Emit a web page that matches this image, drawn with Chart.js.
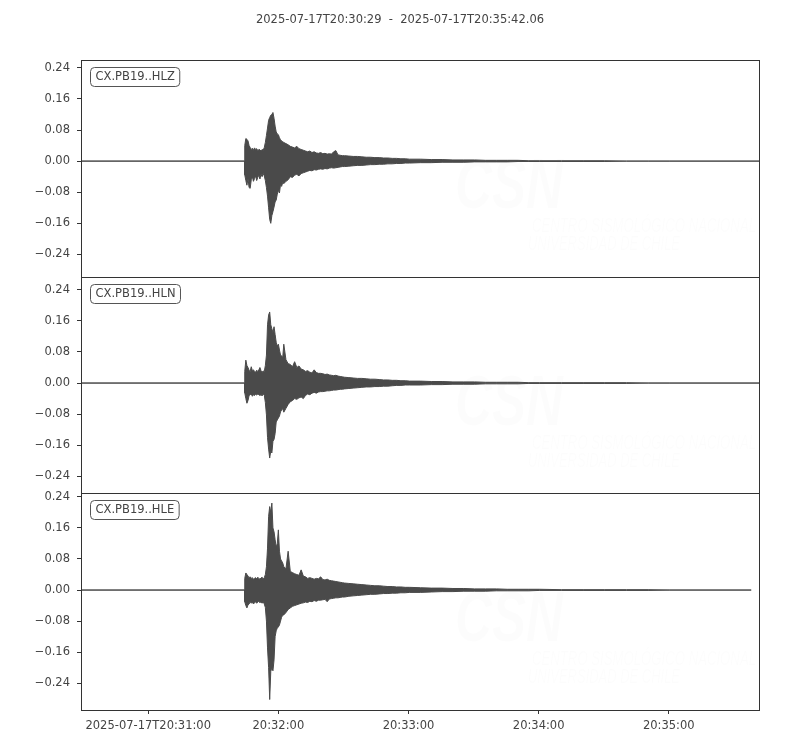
<!DOCTYPE html>
<html><head><meta charset="utf-8">
<script src="https://cdn.jsdelivr.net/npm/chart.js@4.4.1/dist/chart.umd.min.js"></script>
<style>
html,body{margin:0;padding:0;background:#fff;}
#wrap{position:relative;width:800px;height:750px;overflow:hidden;}
canvas{position:absolute;left:0;}
</style></head><body>
<div id="wrap">
<canvas id="c0"></canvas><canvas id="c1"></canvas><canvas id="c2"></canvas>
</div>
<script>
// ---------------- DATA (seconds after 2025-07-17T20:30:00) ----------------
const TITLE = '2025-07-17T20:30:29  -  2025-07-17T20:35:42.06';
const CHANNELS = ['CX.PB19..HLZ', 'CX.PB19..HLN', 'CX.PB19..HLE'];

const TIMES = [29.0, 104.4,
 104.5,105.0,105.5,106.0,106.5,107.0,107.5,108.0,108.5,109.0,109.5,110.0,110.5,111.0,111.5,112.0,112.5,113.0,
 113.5,114.0,114.5,115.0,115.5,116.0,116.5,117.0,117.5,118.0,118.5,119.0,119.5,120.0,120.5,121.0,121.5,122.0,
 122.5,123.5,124.5,125.5,126.5,127.5,128.5,129.5,130.5,131.5,132.5,133.5,134.5,135.5,136.5,137.5,138.5,139.5,140.5,141.5,142.5,143.5,144.5,145.5,146.5,147.5,148.5,149.5,
 150.5,152.5,154.5,156.5,158.5,160.5,162.5,164.5,166.5,168.5,170.5,172.5,174.5,176.5,178.5,
 180.5,185.5,190.5,195.5,200.5,205.5,210.5,215.5,220.5,225.5,230.5,235.5,
 240.5,250.5,260.5,270.5,280.5,290.5,300.5];

// envelope maxima / minima of each trace (m/s)
const HLZ_MAX = [0,0,
 0.040,0.058,0.056,0.052,0.040,0.035,0.030,0.033,0.028,0.034,0.030,0.032,0.027,0.030,0.029,0.026,0.030,0.028,
 0.035,0.048,0.066,0.085,0.105,0.112,0.118,0.120,0.125,0.110,0.090,0.075,0.070,0.068,0.060,0.055,0.052,0.050,
 0.048,0.045,0.042,0.038,0.036,0.034,0.038,0.032,0.030,0.028,0.026,0.024,0.026,0.022,0.024,0.021,0.020,0.022,0.019,0.020,0.018,0.019,0.018,0.024,0.027,0.016,0.015,0.014,
 0.014,0.013,0.012,0.012,0.011,0.010,0.010,0.009,0.009,0.008,0.008,0.007,0.007,0.006,0.006,
 0.005,0.005,0.004,0.004,0.003,0.003,0.003,0.002,0.002,0.002,0.002,0.001,
 0.001,0.001,0.001,0.001,0,0,0];
const HLZ_MIN = [0,0,
 -0.035,-0.050,-0.062,-0.045,-0.068,-0.070,-0.048,-0.040,-0.052,-0.045,-0.038,-0.050,-0.042,-0.036,-0.046,-0.034,-0.040,-0.032,
 -0.038,-0.050,-0.068,-0.090,-0.120,-0.150,-0.160,-0.140,-0.130,-0.118,-0.105,-0.100,-0.085,-0.075,-0.082,-0.060,-0.065,-0.055,
 -0.058,-0.052,-0.048,-0.040,-0.042,-0.036,-0.034,-0.038,-0.032,-0.030,-0.028,-0.026,-0.024,-0.025,-0.022,-0.023,-0.021,-0.020,-0.021,-0.019,-0.020,-0.018,-0.017,-0.018,-0.017,-0.016,-0.015,-0.014,
 -0.014,-0.013,-0.012,-0.011,-0.011,-0.010,-0.009,-0.009,-0.008,-0.008,-0.007,-0.007,-0.006,-0.006,-0.005,
 -0.005,-0.004,-0.004,-0.003,-0.003,-0.003,-0.002,-0.002,-0.002,-0.002,-0.001,-0.001,
 -0.001,-0.001,-0.001,-0.001,0,0,0];

const HLN_MAX = [0,0,
 0.030,0.059,0.045,0.040,0.033,0.030,0.042,0.032,0.034,0.030,0.028,0.033,0.030,0.034,0.040,0.032,0.028,0.031,
 0.030,0.045,0.072,0.150,0.175,0.183,0.150,0.140,0.130,0.145,0.125,0.105,0.095,0.100,0.085,0.072,0.070,0.065,
 0.100,0.060,0.050,0.048,0.042,0.055,0.040,0.044,0.036,0.034,0.030,0.032,0.028,0.026,0.034,0.027,0.025,0.025,0.024,0.022,0.023,0.021,0.020,0.019,0.020,0.018,0.017,0.016,
 0.015,0.014,0.013,0.012,0.012,0.011,0.010,0.010,0.009,0.008,0.008,0.007,0.007,0.006,0.006,
 0.005,0.005,0.004,0.004,0.003,0.003,0.003,0.002,0.002,0.002,0.002,0.001,
 0.001,0.001,0.001,0.001,0.001,0,0];
const HLN_MIN = [0,0,
 -0.025,-0.040,-0.052,-0.045,-0.032,-0.030,-0.028,-0.034,-0.030,-0.032,-0.029,-0.031,-0.028,-0.030,-0.032,-0.030,-0.033,-0.028,
 -0.031,-0.050,-0.082,-0.140,-0.170,-0.193,-0.175,-0.180,-0.150,-0.145,-0.130,-0.100,-0.095,-0.090,-0.085,-0.074,-0.070,-0.065,
 -0.075,-0.065,-0.055,-0.048,-0.045,-0.040,-0.042,-0.038,-0.036,-0.040,-0.032,-0.028,-0.030,-0.026,-0.024,-0.026,-0.023,-0.022,-0.022,-0.021,-0.020,-0.020,-0.019,-0.018,-0.018,-0.017,-0.016,-0.016,
 -0.015,-0.014,-0.013,-0.012,-0.011,-0.010,-0.010,-0.009,-0.009,-0.008,-0.008,-0.007,-0.006,-0.006,-0.005,
 -0.005,-0.005,-0.004,-0.004,-0.003,-0.003,-0.003,-0.002,-0.002,-0.002,-0.002,-0.001,
 -0.001,-0.001,-0.001,-0.001,-0.001,0,0];

const HLE_MAX = [0,0,
 0.030,0.044,0.040,0.036,0.032,0.034,0.030,0.032,0.028,0.030,0.032,0.029,0.033,0.030,0.028,0.031,0.033,0.029,
 0.032,0.040,0.060,0.108,0.190,0.215,0.200,0.224,0.160,0.150,0.130,0.110,0.120,0.155,0.100,0.080,0.075,0.070,
 0.060,0.055,0.100,0.048,0.045,0.042,0.040,0.038,0.052,0.036,0.034,0.030,0.032,0.030,0.028,0.030,0.029,0.034,0.027,0.026,0.028,0.025,0.024,0.023,0.022,0.021,0.020,0.019,
 0.018,0.017,0.016,0.015,0.014,0.013,0.012,0.011,0.011,0.010,0.009,0.009,0.008,0.008,0.007,
 0.007,0.006,0.005,0.005,0.004,0.004,0.003,0.003,0.003,0.002,0.002,0.002,
 0.002,0.001,0.001,0.001,0.001,0.001,0];
const HLE_MIN = [0,0,
 -0.030,-0.040,-0.046,-0.038,-0.036,-0.030,-0.034,-0.031,-0.036,-0.033,-0.030,-0.034,-0.031,-0.028,-0.033,-0.030,-0.034,-0.030,
 -0.036,-0.045,-0.080,-0.149,-0.200,-0.282,-0.210,-0.200,-0.208,-0.180,-0.120,-0.105,-0.098,-0.095,-0.090,-0.080,-0.070,-0.065,
 -0.064,-0.058,-0.050,-0.046,-0.042,-0.040,-0.038,-0.036,-0.034,-0.033,-0.031,-0.032,-0.029,-0.030,-0.027,-0.029,-0.026,-0.026,-0.025,-0.024,-0.030,-0.023,-0.022,-0.021,-0.020,-0.020,-0.019,-0.018,
 -0.018,-0.016,-0.015,-0.014,-0.013,-0.012,-0.011,-0.011,-0.010,-0.009,-0.009,-0.008,-0.008,-0.007,-0.007,
 -0.006,-0.006,-0.005,-0.004,-0.004,-0.003,-0.003,-0.003,-0.002,-0.002,-0.002,-0.002,
 -0.001,-0.001,-0.001,-0.001,-0.001,-0.001,0];

const TRACE_END = [342.06, 342.06, 338.0];
const X_TICKS = [60, 120, 180, 240, 300];
const X_TICK_LABELS = ['2025-07-17T20:31:00', '20:32:00', '20:33:00', '20:34:00', '20:35:00'];
const Y_TICKS = [-0.24, -0.16, -0.08, 0, 0.08, 0.16, 0.24];

// ---------------- CONFIG ----------------
const MAXES = [HLZ_MAX, HLN_MAX, HLE_MAX];
const MINS = [HLZ_MIN, HLN_MIN, HLE_MIN];
const Y_LIMITS = [[-0.298, 0.260], [-0.283, 0.273], [-0.309, 0.250]];
const X_MIN = 29.0, X_MAX = 342.06;
const INK = '#4a4a4a', AXIS = '#333333', TEXT = '#444444';
const FONT = "'DejaVu Sans', sans-serif";
const FONT_SIZE = 11.5;
Chart.defaults.font.family = FONT;
Chart.defaults.font.size = FONT_SIZE;
Chart.defaults.color = TEXT;

const PANELS = [
  {top: 0, height: 280, padTop: 60, padBottom: 3},
  {top: 274, height: 222, padTop: 3, padBottom: 3},
  {top: 490, height: 260, padTop: 3, padBottom: 0}
];

function series(vals, end) {
  const pts = [];
  for (let i = 0; i < TIMES.length; i++) {
    if (TIMES[i] < end) pts.push({x: TIMES[i], y: vals[i]});
  }
  pts.push({x: end, y: 0});
  return pts;
}

const decorPlugin = {
  id: 'decor',
  beforeDatasetsDraw(chart) {
    const a = chart.chartArea, ctx = chart.ctx;
    ctx.save();
    ctx.beginPath(); ctx.rect(a.left, a.top, a.right - a.left, a.bottom - a.top); ctx.clip();
    ctx.fillStyle = 'rgba(0,0,0,0.012)';
    ctx.textBaseline = 'alphabetic'; ctx.textAlign = 'left';
    ctx.font = "italic bold 70px 'Liberation Sans Narrow', 'Liberation Sans', sans-serif";
    ctx.fillText('CSN', a.left + 374, a.top + 148, 108);
    ctx.font = "italic 21px 'Liberation Sans Narrow', 'Liberation Sans', sans-serif";
    ctx.fillText('CENTRO SISMOLÓGICO NACIONAL', a.left + 451, a.top + 172, 224);
    ctx.fillText('UNIVERSIDAD DE CHILE', a.left + 447, a.top + 190, 152);
    ctx.restore();
  },
  afterDraw(chart, args, opts) {
    const a = chart.chartArea, ctx = chart.ctx;
    ctx.save();
    ctx.strokeStyle = AXIS; ctx.lineWidth = 1;
    const l = Math.round(a.left) + 0.5, t = Math.round(a.top) + 0.5;
    const r = Math.round(a.right) - 0.5, b = Math.round(a.bottom) + 0.5;
    ctx.strokeRect(l, t, r - l, b - t);
    // channel label box
    ctx.font = FONT_SIZE + "px " + FONT;
    const label = opts.label;
    const w = ctx.measureText(label).width + 10;
    const bx = a.left + 9.5, by = a.top + 7.5, bh = 19;
    ctx.beginPath();
    ctx.roundRect(bx, by, w, bh, 4);
    ctx.fillStyle = '#ffffff'; ctx.fill();
    ctx.strokeStyle = '#555555'; ctx.stroke();
    ctx.fillStyle = TEXT; ctx.textBaseline = 'middle'; ctx.textAlign = 'left';
    ctx.fillText(label, bx + 5, by + bh / 2 + 0.5);
    if (opts.title) {
      ctx.textAlign = 'center';
      ctx.fillText(opts.title, 400, 20);
    }
    ctx.restore();
  }
};

PANELS.forEach((p, i) => {
  const cv = document.getElementById('c' + i);
  cv.style.top = p.top + 'px';
  cv.width = 800; cv.height = p.height;
  cv.style.width = '800px'; cv.style.height = p.height + 'px';
  const last = i === PANELS.length - 1;
  new Chart(cv, {
    type: 'line',
    data: {
      datasets: [
        {data: series(MAXES[i], TRACE_END[i]), borderColor: INK, backgroundColor: INK,
         borderWidth: 1, pointRadius: 0, tension: 0, fill: '+1'},
        {data: series(MINS[i], TRACE_END[i]), borderColor: INK, backgroundColor: INK,
         borderWidth: 1, pointRadius: 0, tension: 0, fill: false}
      ]
    },
    options: {
      responsive: false, animation: false, events: [],
      layout: {padding: {left: 0, right: 40, top: p.padTop, bottom: p.padBottom}},
      plugins: {
        legend: {display: false}, tooltip: {enabled: false},
        decor: {label: CHANNELS[i], title: i === 0 ? TITLE : null}
      },
      scales: {
        x: {
          type: 'linear', min: X_MIN, max: X_MAX, display: last,
          afterBuildTicks: s => { s.ticks = X_TICKS.map(v => ({value: v})); },
          afterFit: s => {
            s.height = last ? 40 : 0;
            s.paddingLeft = 0; s.paddingRight = 0; s.paddingTop = 0; s.paddingBottom = 0;
          },
          grid: {drawOnChartArea: false, drawTicks: true, tickLength: 4, tickColor: AXIS},
          border: {display: false},
          ticks: {autoSkip: false, maxRotation: 0, padding: 5, color: TEXT,
                  callback: (v, idx) => X_TICK_LABELS[idx]}
        },
        y: {
          type: 'linear', min: Y_LIMITS[i][0], max: Y_LIMITS[i][1],
          afterBuildTicks: s => { s.ticks = Y_TICKS.map(v => ({value: v})); },
          afterFit: s => {
            s.width = 81;
            s.paddingTop = 0; s.paddingBottom = 0; s.paddingLeft = 0; s.paddingRight = 0;
          },
          grid: {drawOnChartArea: false, drawTicks: true, tickLength: 4, tickColor: AXIS},
          border: {display: false},
          ticks: {padding: 7, color: TEXT,
                  callback: v => (v < 0 ? '\u2212' : '') + Math.abs(v).toFixed(2)}
        }
      }
    },
    plugins: [decorPlugin]
  });
});
</script>
</body></html>
